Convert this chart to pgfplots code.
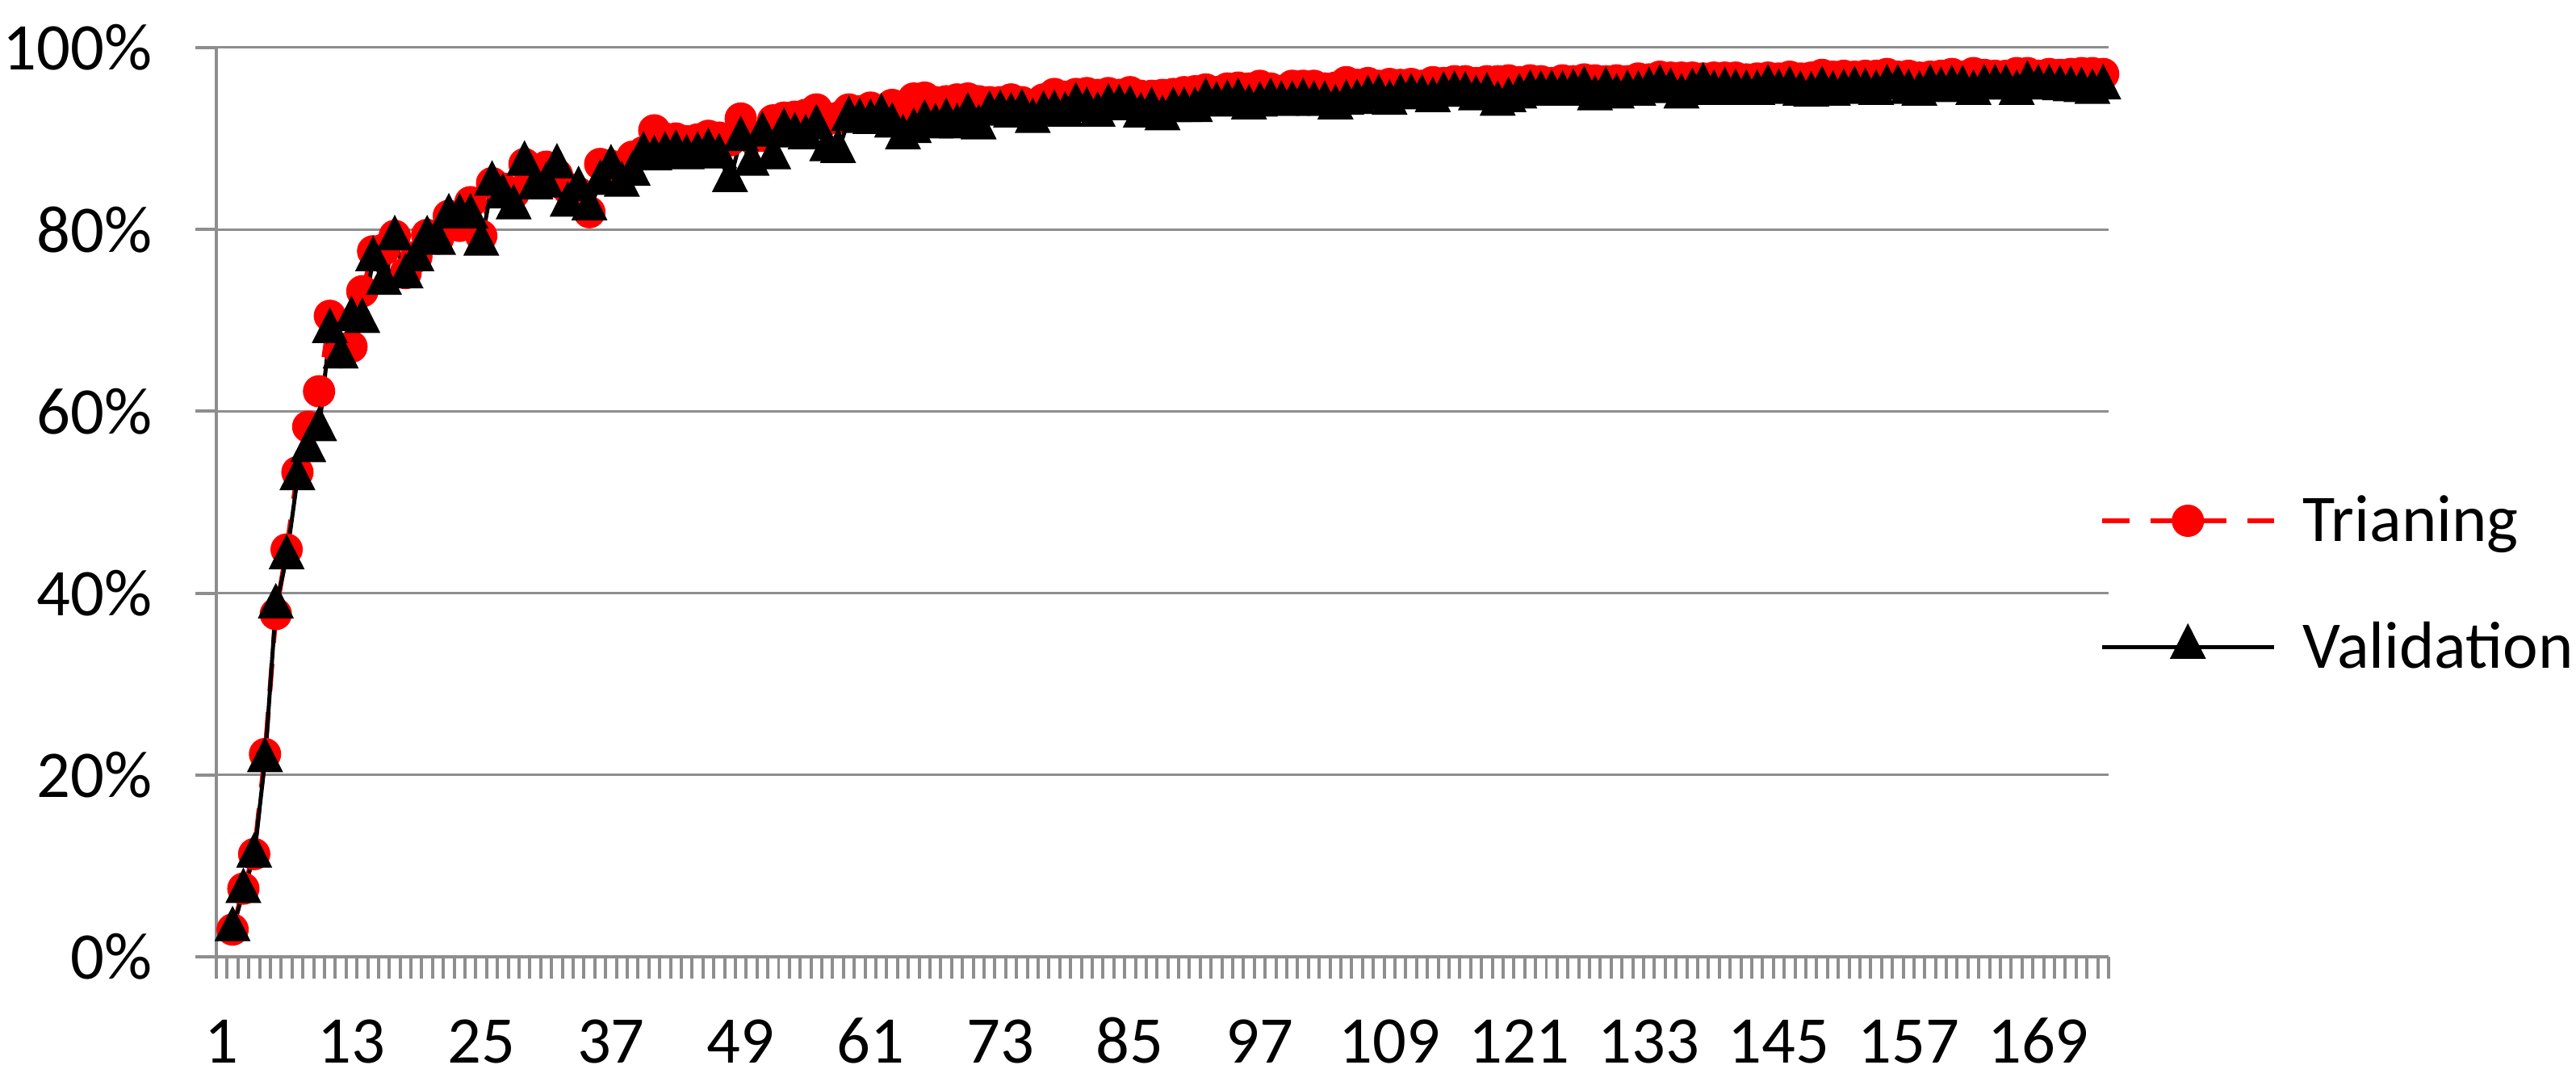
\documentclass[border=0pt]{standalone}
\usepackage{fontspec}
\setmainfont{Carlito}
\usepackage{pgfplots}
\pgfplotsset{compat=1.18}
\usepackage{pgfplotstable}
\definecolor{gridgray}{RGB}{142,142,142}

% accuracy per epoch (category 1 is empty)
\pgfplotstableread{
epoch train valid
2 3.0 3.0
3 7.5 7.2
4 11.3 11.1
5 22.3 21.6
6 37.7 38.5
7 44.8 43.9
8 53.3 52.6
9 58.3 55.7
10 62.2 58.0
11 70.5 68.8
12 66.5 66.0
13 67.1 70.1
14 73.2 69.9
15 77.6 76.7
16 77.8 74.1
17 79.3 79.0
18 75.2 74.8
19 77.0 76.7
20 79.4 79.0
21 79.0 78.5
22 81.5 81.4
23 80.4 81.4
24 83.0 81.4
25 79.3 78.4
26 85.1 85.0
27 84.5 83.6
28 84.0 82.4
29 87.2 87.2
30 86.5 84.6
31 86.9 84.8
32 86.0 86.9
33 84.5 82.7
34 84.0 84.4
35 81.9 82.3
36 87.2 85.1
37 87.0 86.8
38 86.4 84.9
39 88.0 86.1
40 88.5 88.2
41 90.9 87.8
42 90.0 88.2
43 90.0 88.4
44 89.7 87.9
45 89.9 88.2
46 90.3 88.6
47 90.1 88.0
48 89.8 85.4
49 92.2 89.9
50 90.1 87.2
51 90.3 90.4
52 92.0 87.9
53 92.3 90.8
54 92.4 90.3
55 92.6 90.1
56 93.2 91.2
57 92.1 88.8
58 92.3 88.6
59 93.2 92.1
60 93.0 91.9
61 93.4 91.8
62 93.1 92.4
63 93.7 91.4
64 93.2 90.1
65 94.4 90.8
66 94.5 91.7
67 94.0 91.3
68 94.1 91.9
69 94.3 91.3
70 94.4 92.5
71 94.1 91.2
72 94.0 92.7
73 94.0 92.8
74 94.3 92.5
75 94.0 92.9
76 93.6 91.9
77 94.3 92.7
78 94.9 92.8
79 94.6 92.6
80 94.9 93.6
81 95.0 93.1
82 94.8 92.6
83 95.0 93.5
84 94.8 93.4
85 95.1 93.3
86 94.7 92.5
87 94.7 93.1
88 94.8 92.2
89 94.9 93.1
90 95.1 93.1
91 95.2 93.1
92 95.4 94.1
93 95.1 93.7
94 95.5 93.9
95 95.6 94.1
96 95.5 93.4
97 95.8 93.7
98 95.5 94.1
99 95.2 93.8
100 95.8 93.8
101 95.8 94.1
102 95.8 93.8
103 95.5 93.8
104 95.6 93.4
105 96.2 93.9
106 95.9 94.0
107 96.1 94.4
108 95.8 94.5
109 96.0 93.9
110 95.9 94.6
111 96.0 94.6
112 95.8 94.5
113 96.2 94.2
114 96.1 94.8
115 96.3 94.9
116 96.3 94.8
117 96.1 94.4
118 96.3 94.7
119 96.3 93.8
120 96.4 94.2
121 96.2 94.6
122 96.4 95.0
123 96.3 94.9
124 96.1 95.0
125 96.4 94.9
126 96.3 95.1
127 96.5 95.4
128 96.4 94.4
129 96.3 95.3
130 96.4 94.6
131 96.3 95.0
132 96.6 94.9
133 96.5 95.3
134 96.8 95.6
135 96.7 95.2
136 96.7 94.6
137 96.7 95.2
138 96.6 95.8
139 96.7 95.0
140 96.7 95.3
141 96.7 95.1
142 96.5 95.0
143 96.6 95.0
144 96.7 95.6
145 96.6 95.1
146 96.8 95.4
147 96.6 94.9
148 96.7 94.8
149 97.0 95.4
150 96.8 94.9
151 96.9 95.1
152 96.8 95.4
153 96.9 95.2
154 96.9 95.0
155 97.1 95.6
156 96.8 95.6
157 96.9 95.1
158 96.7 94.9
159 96.8 95.6
160 96.9 95.3
161 97.1 95.5
162 96.8 95.5
163 97.2 95.0
164 97.0 95.6
165 96.9 95.6
166 96.9 95.6
167 97.2 95.0
168 97.2 96.0
169 96.9 95.6
170 97.1 95.6
171 97.0 95.5
172 97.1 95.4
173 97.2 95.3
174 97.2 95.1
175 97.1 95.6
}\acc

\begin{document}
\begin{tikzpicture}[font=\fontsize{23.5}{28}\selectfont]
\begin{axis}[
  at={(0,0)}, anchor=south west,
  scale only axis, width=23.44cm, height=11.26cm,
  xmin=0.5, xmax=175.5, ymin=0, ymax=100,
  clip=false,
  axis lines=left,
  axis line style={-, draw=gridgray, line width=0.04cm},
  xtick={1,13,...,169},
  minor xtick={0.5,1.5,...,175.5},
  ytick={0,20,...,100},
  ymajorgrids,
  grid style={draw=gridgray, line width=0.03cm},
  tick align=outside,
  major tick length=0.26cm,
  minor tick length=0.27cm,
  tick style={draw=gridgray, line width=0.04cm},
  major x tick style={draw=none},
  /pgf/number format/assume math mode=true,
  yticklabel={\pgfmathprintnumber{\tick}\%},
  yticklabel style={anchor=east, inner sep=0pt, xshift=-0.53cm},
  xticklabel style={anchor=base, inner sep=0pt, yshift=-1.06cm},
  legend style={draw=none, fill=none, inner sep=0pt,
    at={(rel axis cs:0.9949,0.410)}, anchor=west,
    row sep=0.8cm, column sep=0.26cm,
    font=\fontsize{23.5}{28}\selectfont},
  legend cell align=left,
  legend image code/.code={
    \draw[mark repeat=2,mark phase=2,#1]
      plot coordinates {(0cm,0cm) (1.065cm,0cm) (2.13cm,0cm)};},
]
\addplot[red, line width=0.06cm, dash pattern=on 0.34cm off 0.26cm,
  mark=*, mark size=0.17cm,
  mark options={solid, fill=red, draw=none}]
  table[x=epoch, y=train]{\acc};
\addlegendentry{Trianing}
\addplot[black, line width=0.05cm,
  mark=triangle*, mark size=0.24cm,
  mark options={solid, fill=black, draw=none, xscale=0.88}]
  table[x=epoch, y=valid]{\acc};
\addlegendentry{Validation}
\end{axis}
\pgfresetboundingbox
\path[use as bounding box] (-2.68cm,-1.60cm) rectangle (29.23cm,11.85cm);
\end{tikzpicture}
\end{document}
